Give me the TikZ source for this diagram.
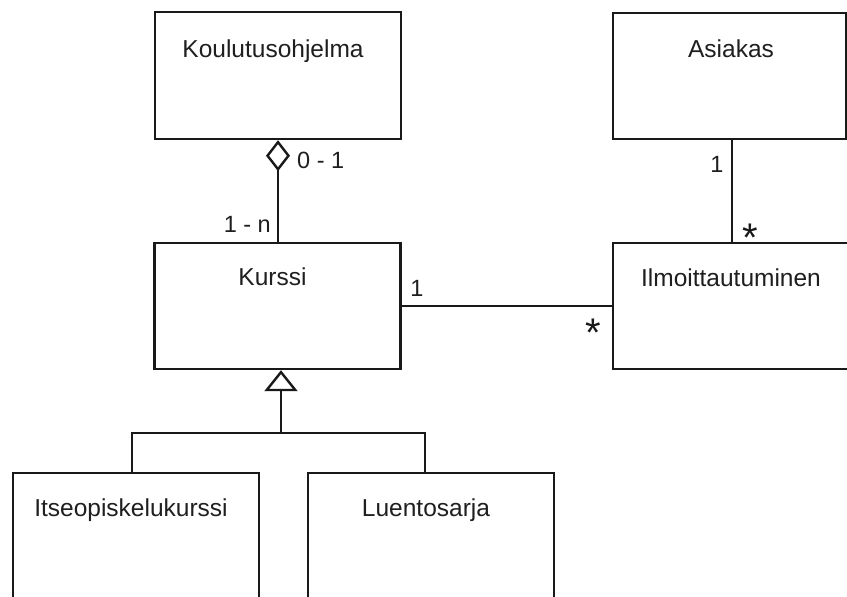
\documentclass[tikz,border=0pt]{standalone}
\usepackage{fontspec}
\setmainfont{Liberation Sans}
\usetikzlibrary{arrows.meta}
\begin{document}
\begin{tikzpicture}[x=1pt,y=-1pt,
  cls/.style={draw=black!90, line width=2.4pt, rectangle, minimum width=246pt, minimum height=127pt, inner sep=0pt},
  title/.style={font=\fontsize{24.5}{28}\selectfont, text=black!88, inner sep=0pt, anchor=base},
  mult/.style={font=\fontsize{23.5}{27}\selectfont, text=black!88, inner sep=0pt},
  star/.style={font=\fontsize{40}{44}\selectfont, text=black!90, inner sep=0pt, anchor=base},
  conn/.style={draw=black!90, line width=2.4pt}]
\clip (0,0) rectangle (847,597);
\fill[white] (0,0) rectangle (847,597);
% class boxes
\node[cls] (kou) at (278,75.5) {};
\node[cls, minimum height=126pt] (kur) at (277.5,306) {};
\node[cls, minimum height=126pt, minimum width=233pt] (asi) at (729.5,76) {};
\node[cls, minimum height=126pt] (ilm) at (736,306) {};
\node[cls] (its) at (136,536.5) {};
\node[cls] (lue) at (431,536.5) {};
% titles
\node[title] (kout) at ([xshift=-5pt,yshift=-47pt]kou.north) {Koulutusohjelma};
\node[title] (kurt) at ([xshift=-5pt,yshift=-44pt]kur.north) {Kurssi};
\node[title] (asit) at ([xshift=1.5pt,yshift=-46pt]asi.north) {Asiakas};
\node[title] (ilmt) at ([xshift=-5pt,yshift=-45pt]ilm.north) {Ilmoittautuminen};
\node[title] (itst) at ([xshift=-5pt,yshift=-45pt]its.north) {Itseopiskelukurssi};
\node[title] (luet) at ([xshift=-5pt,yshift=-45pt]lue.north) {Luentosarja};
% aggregation
\draw[conn, {Diamond[open,length=31pt,width=24pt]}-] (kou.south) -- (kou.south |- kur.north);
\node[mult, anchor=base west] (m01) at (297,168) {0 - 1};
\node[mult, anchor=base east] (m1n) at (271,232) {1 - n};
% association Kurssi - Ilmoittautuminen
\draw[conn] (kur.east) -- (ilm.west);
\node[mult, anchor=base] (mk1) at (417,296) {1};
\node[star] (mks) at (593,346) {*};
% association Asiakas - Ilmoittautuminen
\draw[conn] (asi.south -| 732,0) -- (ilm.north -| 732,0);
\node[mult, anchor=base] (ma1) at (717,172) {1};
\node[star] (mas) at (750,251) {*};
% generalization
\coordinate (jn) at (281,433);
\coordinate (jl) at (132,433);
\coordinate (jr) at (425,433);
\draw[conn] (its.north -| jl) -- (jl) -- (jr) -- (lue.north -| jr);
\draw[conn, -{Triangle[open,length=21pt,width=33pt]}] (jn) -- (jn |- kur.south);
\end{tikzpicture}
\end{document}
